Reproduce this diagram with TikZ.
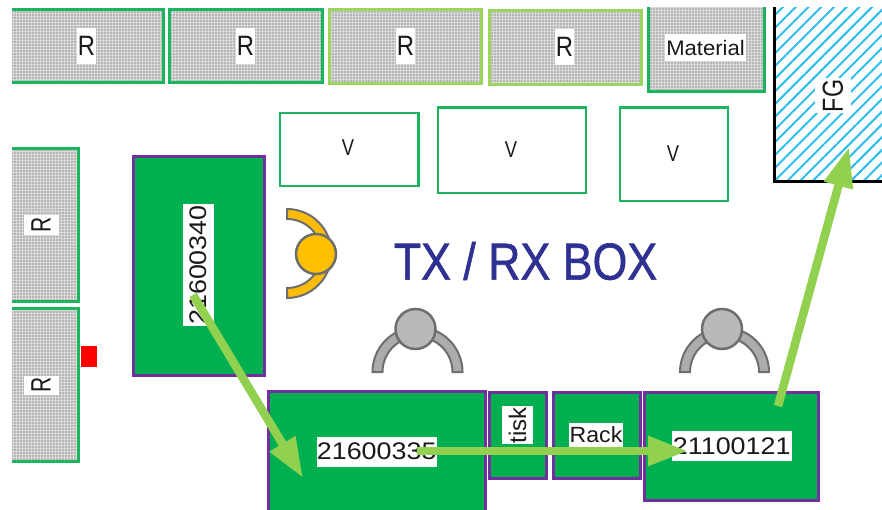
\documentclass[tikz,border=0pt]{standalone}
\usepackage{graphicx}
\usepackage{fontspec}
\setmainfont{Liberation Sans}
\newfontfamily\ttlfont[FakeBold=1.2]{Liberation Sans}
\usetikzlibrary{arrows.meta,patterns.meta}
\definecolor{gA}{HTML}{1DB45F}
\definecolor{gB}{HTML}{9BD55B}
\definecolor{pur}{HTML}{7030A0}
\definecolor{boxg}{HTML}{00B050}
\definecolor{arr}{HTML}{92D050}
\definecolor{ttl}{HTML}{2E3192}
\definecolor{hatch}{HTML}{2DBDEE}
\definecolor{per}{HTML}{6E6E6E}
\tikzset{
  base/.style={rectangle,inner sep=0pt,outer sep=0pt},
  rack/.style={base,draw=#1,line width=3pt,preaction={fill=gray!30},pattern={Dots[radius=0.7pt,distance=3pt]},pattern color=black!75},
  vbox/.style={base,draw=gA,line width=2.5pt,fill=white},
  wbox/.style={base,draw=pur,line width=3pt,fill=boxg},
  lbl/.style={base,fill=white,text=black!90,font=\fontsize{#1}{#1}\selectfont},
  flow/.style={draw=arr,line width=8.5pt,-{Triangle[length=40pt,width=28pt]}},
  band/.style={draw=per,line width=2pt,line join=miter},
  head/.style={circle,draw=per,line width=2.5pt,inner sep=0pt,minimum size=40pt}
}
\newcommand{\bx}[6]{\node[#2,minimum width={(#5)-(#3)},minimum height={(#6)-(#4)}] (#1) at ({((#3)+(#5))/2},{((#4)+(#6))/2}) {};}
\newcommand{\sx}[2]{\scalebox{#1}[1]{#2}}
\begin{document}
\begin{tikzpicture}[x=1pt,y=-1pt]
\useasboundingbox (0,0) rectangle (882,510);
\clip (12,8) rectangle (882,510);
\bx{r1}{rack=gA}{-5}{9.5}{163}{83}
\bx{r2}{rack=gA}{169.5}{9.5}{322}{83}
\bx{r3}{rack=gB}{329.5}{10}{481}{83.5}
\bx{r4}{rack=gB}{489}{10.5}{641}{85}
\bx{mat}{rack=gA}{648}{-5}{764.5}{91.5}
\bx{rl1}{rack=gA}{-5}{149}{78.5}{301}
\bx{rl2}{rack=gA}{-5}{308}{78.5}{461}
\bx{v1}{vbox}{280}{113}{418.5}{186}
\bx{v2}{vbox}{438}{107.5}{586}{193}
\bx{v3}{vbox}{620}{107.5}{728}{201}
\bx{red}{base,fill=red}{81}{346}{97}{366.5}
\bx{fg}{base,draw=black,line width=3pt,preaction={fill=white},pattern={Lines[angle=45,distance=9pt,line width=2pt]},pattern color=hatch}{774.5}{-5}{900}{182}
\bx{a}{wbox}{133}{157}{264.5}{375.5}
\bx{b}{wbox}{268}{391}{485.5}{525}
\bx{c}{wbox}{489.5}{392.5}{546.5}{478.5}
\bx{d}{wbox}{553}{392.5}{640}{478.5}
\bx{e}{wbox}{644.5}{392.5}{818.5}{500}
% labels
\node[lbl=28,minimum width=19pt,minimum height=36pt] (lr1) at (86.5,46) {\sx{.85}{R}};
\node[lbl=28,minimum width=19pt,minimum height=36pt] (lr2) at (245.5,46) {\sx{.85}{R}};
\node[lbl=28,minimum width=19pt,minimum height=36pt] (lr3) at (405.5,46) {\sx{.85}{R}};
\node[lbl=28,minimum width=19pt,minimum height=36pt] (lr4) at (564.5,47) {\sx{.85}{R}};
\node[lbl=21,minimum width=81pt,minimum height=27pt] (lmat) at (705.5,48) {\sx{1.05}{Material}};
\node[lbl=28,rotate=90,minimum width=20pt,minimum height=35pt] (lrl1) at (41,225) {\sx{.75}{R}};
\node[lbl=28,rotate=90,minimum width=19pt,minimum height=35pt] (lrl2) at (41,385) {\sx{.75}{R}};
\node[lbl=23] (lv1) at (348,148) {\sx{.8}{V}};
\node[lbl=23] (lv2) at (511,150) {\sx{.8}{V}};
\node[lbl=23] (lv3) at (673,154) {\sx{.8}{V}};
\node[lbl=29,rotate=90,minimum width=35pt,minimum height=36pt] (lfg) at (833,96) {\sx{.8}{FG}};
\node[lbl=24,rotate=90,minimum width=122pt,minimum height=31pt] (la) at (198.5,265) {\sx{1.12}{21600340}};
\node[lbl=24,minimum width=120pt,minimum height=30pt] (lb) at (376.7,451.7) {\sx{1.12}{21600335}};
\node[lbl=24,minimum width=120pt,minimum height=30pt] (le) at (731.7,446) {\sx{1.12}{21100121}};
\node[lbl=22,minimum width=54pt,minimum height=24pt] (ld) at (596,434.7) {\sx{1.05}{Rack}};
\node[lbl=24,rotate=90,minimum width=38pt,minimum height=31pt] (lc) at (517.5,425) {tisk};
\node[text=ttl,font=\ttlfont\fontsize{52}{52}\selectfont,xscale=.86,inner sep=0pt] (title) at (525.5,261) {TX / RX BOX};
% operators
\path[band,fill=gray!65] (372.5,372) arc[start angle=180,end angle=0,radius=45pt] -- ++(-10,0) arc[start angle=0,end angle=180,radius=35pt] -- cycle;
\node[head,fill=gray!55] (p1) at (415.5,329) {};
\path[band,fill=gray!65] (680,372) arc[start angle=180,end angle=0,radius=44.5pt] -- ++(-10,0) arc[start angle=0,end angle=180,radius=34.5pt] -- cycle;
\node[head,fill=gray!55] (p2) at (722,329) {};
\path[band,fill=yellow!50!orange] (287,209) arc[start angle=90,end angle=-90,radius=44.5pt] -- ++(0,-10) arc[start angle=-90,end angle=90,radius=34.5pt] -- cycle;
\node[head,fill={rgb,255:red,255;green,192;blue,0}] (p3) at (316,254) {};
% flows
\coordinate (s1) at (193,295);
\coordinate (t1) at (303,478);
\coordinate (s2) at (417,451);
\coordinate (t2) at (688,451);
\coordinate (s3) at (778,406);
\coordinate (t3) at (849,147);
\draw[flow] (s1) -- (t1);
\draw[flow] (s2) -- (t2);
\draw[flow] (s3) -- (t3);
\end{tikzpicture}
\end{document}
